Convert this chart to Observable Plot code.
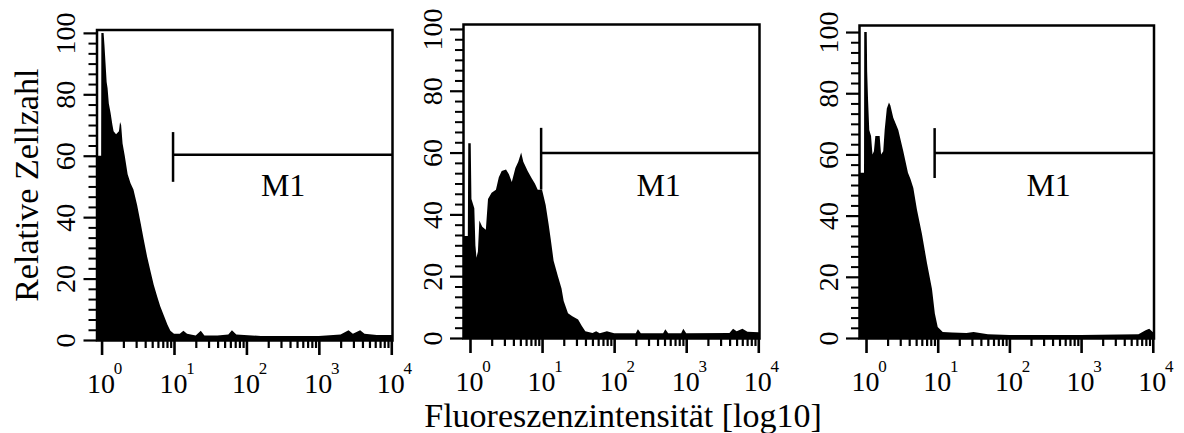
<!DOCTYPE html>
<html><head><meta charset="utf-8">
<script src="https://cdn.jsdelivr.net/npm/d3@7"></script>
<script src="https://cdn.jsdelivr.net/npm/@observablehq/plot@0.6"></script>
<style>
html,body{margin:0;padding:0;background:#fff;}
#chart{position:relative;width:1184px;height:433px;overflow:hidden;background:#fff;}
#chart svg{position:absolute;left:0;top:0;}
#chart svg text{font-family:"Liberation Serif","Times New Roman",serif;}
</style></head><body><div id="chart"></div>
<script>
// ---- data (log10 fluorescence intensity, relative cell count) ----
const p1Exp = [-0.08, -0.006, -0.003, 0.028, 0.04, 0.055, 0.07, 0.083, 0.10, 0.124, 0.15, 0.166, 0.20, 0.24, 0.255, 0.27, 0.29, 0.32, 0.36, 0.40, 0.44, 0.49, 0.54, 0.58, 0.63, 0.68, 0.72, 0.77, 0.81, 0.86, 0.91, 0.95, 1.0, 1.08, 1.13, 1.18, 1.3, 1.37, 1.42, 1.6, 1.75, 1.8, 1.86, 2.2, 2.6, 3.0, 3.3, 3.41, 3.47, 3.57, 3.63, 3.8, 4.05];
const p1Count = [60, 60, 100, 100, 96, 90, 84, 82, 77, 74, 70, 68, 67, 68, 71, 70, 64, 60, 54, 51, 49, 44, 38, 33, 27, 22, 18, 14, 11, 8, 5, 3, 2, 2, 3, 2, 1.5, 3, 1.5, 1.5, 1.8, 3.2, 1.8, 1.3, 1.3, 1.3, 1.8, 3.2, 2, 3.2, 2, 1.6, 1.6];

const p2Exp = [-0.12, -0.03, -0.024, 0.01, 0.02, 0.06, 0.075, 0.09, 0.11, 0.13, 0.17, 0.22, 0.25, 0.30, 0.36, 0.40, 0.44, 0.50, 0.54, 0.58, 0.63, 0.67, 0.71, 0.74, 0.80, 0.86, 0.90, 0.94, 1.00, 1.05, 1.09, 1.12, 1.16, 1.22, 1.27, 1.30, 1.36, 1.42, 1.5, 1.55, 1.6, 1.7, 1.75, 1.8, 1.9, 2.0, 2.3, 2.33, 2.37, 2.68, 2.71, 2.75, 2.93, 2.96, 3.0, 3.6, 3.65, 3.7, 3.78, 3.85, 4.05];
const p2Count = [33, 33, 63, 63, 45, 42, 30, 26, 28, 38, 36, 35, 45, 47, 48, 52, 54, 54.5, 53, 50.5, 55, 57, 60, 57, 54, 51.5, 50, 48, 48, 43, 37, 32, 25, 20, 16, 12, 8, 7, 6, 4, 2.2, 1.6, 2.2, 1.5, 2.2, 1.5, 1.5, 2.8, 1.5, 1.5, 2.8, 1.5, 1.5, 3, 1.5, 1.6, 3, 2.2, 3, 2, 1.8];

const p3Exp = [-0.12, -0.028, -0.025, 0.01, 0.016, 0.028, 0.045, 0.07, 0.09, 0.11, 0.13, 0.19, 0.21, 0.24, 0.26, 0.29, 0.32, 0.34, 0.38, 0.45, 0.52, 0.585, 0.62, 0.66, 0.71, 0.78, 0.85, 0.92, 0.96, 1.0, 1.07, 1.2, 1.4, 1.5, 1.7, 2.0, 3.0, 3.8, 3.9, 3.95, 4.0, 4.05];
const p3Count = [54, 54, 100, 100, 87, 78, 68, 66, 60, 61, 66, 66, 60, 61, 68, 75, 77, 76, 72, 68, 61, 54, 52, 49, 42, 34, 24.5, 16, 8, 3.6, 2, 1.8, 1.6, 2, 1.2, 1, 1, 1.2, 2.5, 3, 2, 2];

// M1 marker gate (log10 start, level, tick top/bottom) and label
const markerExp = [0.98, 0.98, 0.95];
const markerLevel = [60.5, 60, 60.6];
const markerTop = [67.7, 68, 68.6];
const markerBottom = [51.5, 48, 52.3];
const markerLabel = ["M1", "M1", "M1"];
const labelExp = [2.5, 2.61, 2.54];
const labelLevel = [47, 46, 46.7];

// tick labels
const xMajorTicks = [1, 10, 100, 1000, 10000];
const xTickBase = ["10", "10", "10", "10", "10"];
const xTickExp = ["0", "1", "2", "3", "4"];
const yMajor = [0, 20, 40, 60, 80, 100];
const yLabel = "Relative Zellzahl";
const xLabel = "Fluoreszenzintensität [log10]";

const xMinorTicks = [];
for (const dec of [1, 10, 100, 1000]) for (const k of [2,3,4,5,6,7,8,9]) xMinorTicks.push(dec * k);
const yMinor = d3.range(0, 100.01, 10/3).filter(v => Math.abs(v/20 - Math.round(v/20)) > 1e-6);

// ---- layout ----
const W = 1184, H = 433;
const layout = [
  {left: 96.5, right: 392, top: 29.5, bottom: 340, e0: -0.07, ymax: 101.1},
  {left: 463, right: 759, top: 24, bottom: 338, e0: -0.097, ymax: 101.6},
  {left: 859, right: 1153.5, top: 25, bottom: 338, e0: -0.098, ymax: 102.3}
];
const panels = [[p1Exp, p1Count], [p2Exp, p2Count], [p3Exp, p3Count]];
const chart = document.getElementById("chart");

panels.forEach(([exps, counts], i) => {
  const L = layout[i];
  const table = exps.map((e, j) => ({x: 10 ** e, y: counts[j]}));
  const xmax = 10 ** 4.01;
  const marks = [
    Plot.areaY(table, {x: "x", y: "y", fill: "black", clip: true}),
    Plot.frame({stroke: "black", strokeWidth: 2.5}),
    Plot.axisX({ticks: xMinorTicks, tickSize: 8, strokeWidth: 2.2, tickFormat: () => "", label: null}),
    Plot.axisX({ticks: xMajorTicks, tickSize: 15, strokeWidth: 2.6, tickFormat: () => "", label: null}),
    Plot.axisX({ticks: xMajorTicks, tickSize: 0, tickPadding: 33, fontSize: 28, dx: -1, label: null,
      tickFormat: d => xTickBase[xMajorTicks.indexOf(d)]}),
    Plot.axisX({ticks: xMajorTicks, tickSize: 0, tickPadding: 21, fontSize: 17, dx: 16, label: null,
      tickFormat: d => xTickExp[xMajorTicks.indexOf(d)]}),
    Plot.axisY({ticks: yMinor, tickSize: 8, strokeWidth: 2, tickFormat: () => "", label: null}),
    Plot.axisY({ticks: yMajor, tickSize: 13, strokeWidth: 2.2, tickFormat: () => "", label: null}),
    Plot.text(yMajor, {y: d => d, text: d => String(d), frameAnchor: "left", rotate: -90, dx: -22,
      lineAnchor: "bottom", textAnchor: "middle", fontSize: 28, fill: "black"}),
    Plot.ruleX([{x: 10 ** markerExp[i], y1: markerBottom[i], y2: markerTop[i]}], {x: "x", y1: "y1", y2: "y2", stroke: "black", strokeWidth: 2.5}),
    Plot.ruleY([{y: markerLevel[i], x1: 10 ** markerExp[i], x2: xmax}], {y: "y", x1: "x1", x2: "x2", stroke: "black", strokeWidth: 2.5}),
    Plot.text([{x: 10 ** labelExp[i], y: labelLevel[i], t: markerLabel[i]}], {x: "x", y: "y", text: "t", fontSize: 32, lineAnchor: "bottom", fill: "black"})
  ];
  if (i === 0) {
    marks.push(Plot.text([yLabel], {frameAnchor: "left", rotate: -90, dx: -59, lineAnchor: "bottom", textAnchor: "middle", fontSize: 34, fill: "black"}));
  }
  if (i === 1) {
    marks.push(Plot.text([xLabel], {frameAnchor: "bottom", dx: 11.5, dy: 88, lineAnchor: "bottom", textAnchor: "middle", fontSize: 34, fill: "black"}));
  }
  const svg = Plot.plot({
    width: W, height: H,
    marginLeft: L.left, marginRight: W - L.right, marginTop: L.top, marginBottom: H - L.bottom,
    x: {type: "log", domain: [10 ** L.e0, xmax]},
    y: {domain: [0, L.ymax]},
    style: "background: transparent; font-family: 'Liberation Serif', 'Times New Roman', serif; color: black; overflow: visible;",
    marks
  });
  chart.appendChild(svg);
});
</script>
</body></html>
